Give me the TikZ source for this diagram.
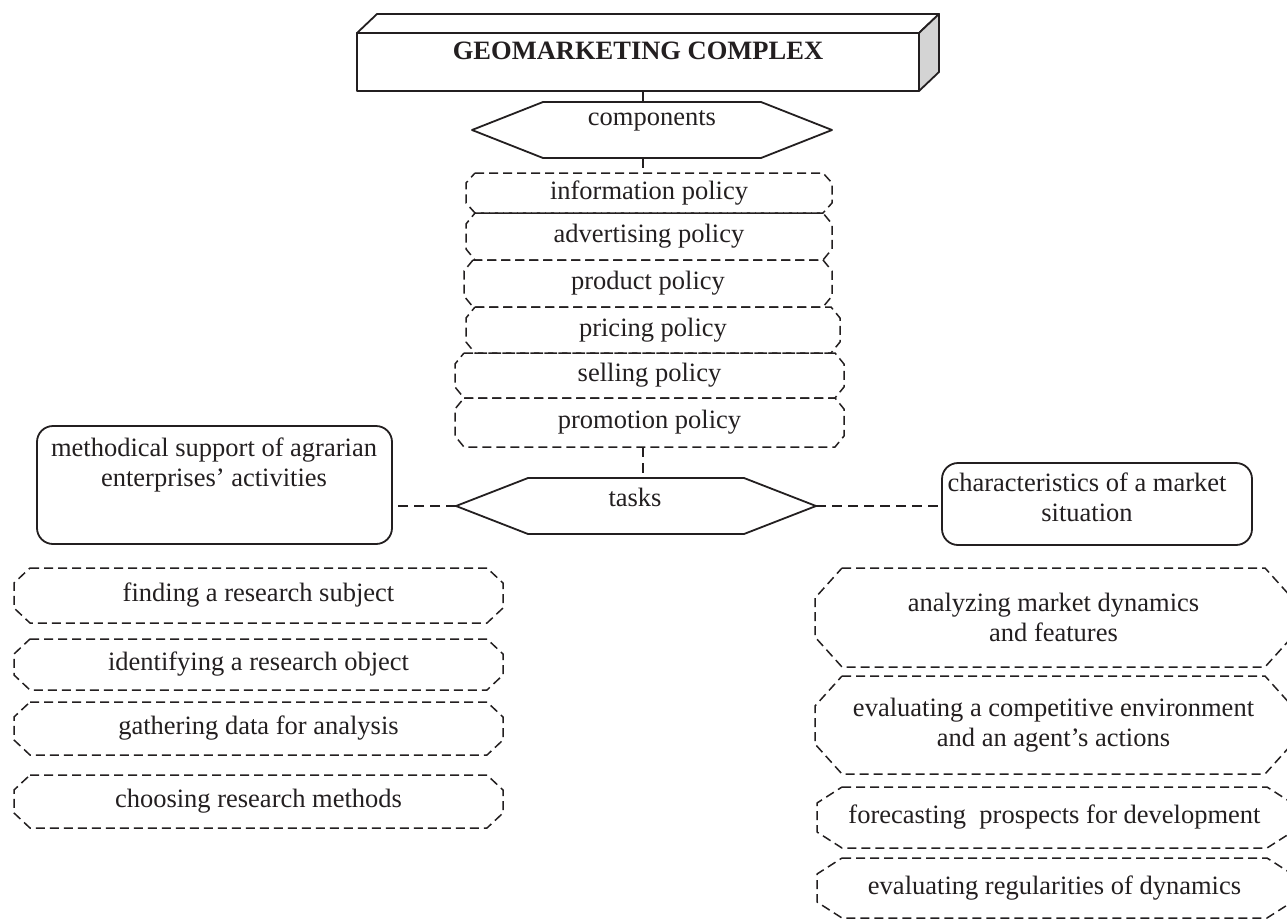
\documentclass[tikz,border=0pt]{standalone}
\usepackage{fontspec}
\setmainfont{Liberation Serif}
\definecolor{ink}{HTML}{231F20}
\definecolor{sideface}{HTML}{D4D4D4}
\tikzset{
  base/.style={inner sep=0pt, outer sep=0pt, font=\fontsize{26.5}{30}\selectfont, text=ink, align=center},
  shp/.style={base, rectangle, draw=none},
  dbox/.style={draw=ink, line width=1.5pt, dash pattern=on 9pt off 5pt},
  sbox/.style={draw=ink, line width=1.8pt},
  conn/.style={draw=ink, line width=2.2pt, dash pattern=on 10pt off 6pt},
  rbox/.style={shp, draw=ink, line width=1.8pt, rounded corners=16pt},
}
\newcommand\octo[3]{\draw[dbox] ([xshift=#2]#1.north west) -- ([xshift=-#2]#1.north east) -- ([yshift=-#3]#1.north east) -- ([yshift=#3]#1.south east) -- ([xshift=-#2]#1.south east) -- ([xshift=#2]#1.south west) -- ([yshift=#3]#1.south west) -- ([yshift=-#3]#1.north west) -- cycle;}
\newcommand\hexo[2]{\draw[sbox, fill=white] (#1.west) -- ([xshift=#2]#1.north west) -- ([xshift=-#2]#1.north east) -- (#1.east) -- ([xshift=-#2]#1.south east) -- ([xshift=#2]#1.south west) -- cycle;}
\begin{document}
\begin{tikzpicture}[x=1pt,y=-1pt,line join=round]
\useasboundingbox (0,0) rectangle (1287,918);
\clip (0,0) rectangle (1287,918);
\fill[white] (0,0) rectangle (1287,918);
\coordinate (cx) at (643,0);

% title 3D box
\node[shp, minimum width=562, minimum height=58] (title) at (638,62) {};
\draw[sbox, fill=white] (title.north west) -- ++(20,-19) -- ++(562,0) -- (title.north east) -- cycle;
\draw[sbox, fill=sideface] (title.north east) -- ++(20,-19) -- ++(0,58) -- (title.south east) -- cycle;
\draw[sbox] (title.south west) rectangle (title.north east);
\node[base, font=\bfseries\fontsize{26.5}{30}\selectfont] (titletxt) at (638,51) {GEOMARKETING COMPLEX};

% components hexagon
\node[shp, minimum width=360, minimum height=56] (comp) at (652,130) {};
\hexo{comp}{71}
\node[base] (comptxt) at (652,121) {components};

% policy boxes
\node[shp, minimum width=366, minimum height=40] (info) at (649,193) {information policy};
\node[shp, minimum width=366, minimum height=47] (adv) at (649,236.5) {advertising policy};
\node[shp, minimum width=368, minimum height=47] (prod) at (648,283.5) {product policy};
\node[shp, minimum width=374, minimum height=46] (price) at (653,330) {pricing policy};
\node[shp, minimum width=389, minimum height=45] (sell) at (649.5,375.5) {selling policy};
\node[shp, minimum width=389, minimum height=49] (promo) at (649.5,422.5) {promotion policy};
\octo{info}{9}{10}
\octo{adv}{9}{11}
\octo{prod}{9}{11}
\octo{price}{9}{11}
\octo{sell}{9}{11}
\octo{promo}{9}{11}

% tasks hexagon
\node[shp, minimum width=360, minimum height=56] (tasks) at (636,506) {};
\hexo{tasks}{72}
\node[base] (taskstxt) at (635,497) {tasks};

% rounded side boxes
\node[rbox, minimum width=355, minimum height=118] (meth) at (214.5,485) {};
\node[base] (methtxt) at (214,465) {methodical support of agrarian\\enterprises’ activities};
\node[rbox, minimum width=310, minimum height=82] (charb) at (1097,504) {};
\node[base] (chartxt) at (1087,497.5) {characteristics of a market\\situation};

% connectors
\draw[sbox] (title.south -| cx) -- (comp.north -| cx);
\draw[conn] (comp.south -| cx) -- (info.north -| cx);
\draw[conn] (promo.south -| cx) -- (tasks.north -| cx);
\draw[conn] (tasks.west) -- (meth.east |- tasks.west);
\draw[conn] (tasks.east) -- (charb.west |- tasks.east);

% left boxes
\node[shp, minimum width=489, minimum height=55] (find) at (258.5,595.5) {finding a research subject};
\node[shp, minimum width=489, minimum height=51] (ident) at (258.5,664.5) {identifying a research object};
\node[shp, minimum width=489, minimum height=53] (gath) at (258.5,728.5) {gathering data for analysis};
\node[shp, minimum width=489, minimum height=53] (choose) at (258.5,801.5) {choosing research methods};
\octo{find}{16}{15}
\octo{ident}{16}{15}
\octo{gath}{16}{15}
\octo{choose}{16}{15}

% right boxes
\node[shp, minimum width=477, minimum height=99] (anal) at (1053.5,617.5) {analyzing market dynamics\\and features};
\node[shp, minimum width=477, minimum height=98] (comp2) at (1053.5,725) {evaluating a competitive environment\\and an agent’s actions};
\node[shp, minimum width=475, minimum height=61] (fore) at (1054.5,817.5) {forecasting~ prospects for development};
\node[shp, minimum width=475, minimum height=60] (regul) at (1054.5,888) {evaluating regularities of dynamics};
\octo{anal}{27}{30}
\octo{comp2}{27}{30}
\octo{fore}{25}{16}
\octo{regul}{25}{16}
\end{tikzpicture}
\end{document}
